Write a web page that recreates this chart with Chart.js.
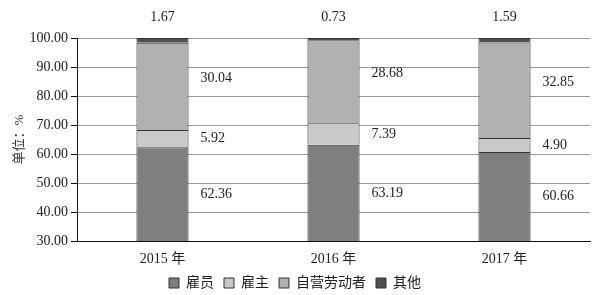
<!DOCTYPE html>
<html>
<head>
<meta charset="utf-8">
<script src="https://cdn.jsdelivr.net/npm/chart.js@4/dist/chart.umd.min.js"></script>
<style>
html,body{margin:0;padding:0;background:#fff;}
#wrap{width:606px;height:295px;position:relative;}
</style>
</head>
<body>
<div id="wrap"><canvas id="c" width="606" height="295"></canvas></div>
<script>
const categories = ["2015 年", "2016 年", "2017 年"];
const employees = [62.36, 63.19, 60.66];
const employers = [5.92, 7.39, 4.90];
const selfEmployed = [30.04, 28.68, 32.85];
const others = [1.67, 0.73, 1.59];
const seriesNames = ["雇员", "雇主", "自营劳动者", "其他"];
const seriesColors = ["#7f7f82", "#c9c9c9", "#b1b1b1", "#505050"];
const yTicks = [30, 40, 50, 60, 70, 80, 90, 100];

const FONT = '"Liberation Serif", "Noto Sans CJK SC", serif';

const labelPlugin = {
  id: 'valueLabels',
  afterDatasetsDraw(chart) {
    const ctx = chart.ctx;
    ctx.save();
    ctx.font = '14px ' + FONT;
    ctx.fillStyle = '#222';
    ctx.textBaseline = 'middle';
    chart.data.datasets.forEach((ds, di) => {
      const meta = chart.getDatasetMeta(di);
      meta.data.forEach((bar, i) => {
        const v = ds.data[i];
        const txt = v.toFixed(2);
        const props = bar.getProps(['x', 'y', 'base', 'width'], true);
        if (di === 3) {
          ctx.textAlign = 'center';
          ctx.fillText(txt, props.x, chart.chartArea.top - 21);
        } else {
          const top = props.y;
          const bottom = Math.min(props.base, chart.chartArea.bottom);
          let y = (top + bottom) / 2;
          if (di === 2) y -= 8;
          ctx.textAlign = 'left';
          ctx.fillText(txt, props.x + props.width / 2 + 12, y);
        }
      });
    });
    ctx.restore();
  }
};

new Chart(document.getElementById('c'), {
  type: 'bar',
  data: {
    labels: categories,
    datasets: [employees, employers, selfEmployed, others].map((d, k) => ({
      label: seriesNames[k],
      data: d,
      backgroundColor: seriesColors[k],
      borderColor: '#333',
      borderWidth: 1,
      categoryPercentage: 1,
      barPercentage: 0.305
    }))
  },
  options: {
    responsive: false,
    animation: false,
    devicePixelRatio: 1,
    layout: { padding: { top: 38, right: 16, left: 0, bottom: -5 } },
    plugins: {
      tooltip: { enabled: false },
      legend: {
        position: 'bottom',
        labels: {
          font: { family: FONT, size: 14 },
          color: '#222',
          boxWidth: 10,
          boxHeight: 10,
          padding: 10,
          generateLabels(chart) {
            return chart.data.datasets.map((ds, i) => ({
              text: ds.label,
              fillStyle: ds.backgroundColor,
              strokeStyle: '#333',
              lineWidth: 1,
              hidden: false,
              datasetIndex: i,
              fontColor: '#222'
            }));
          }
        }
      }
    },
    scales: {
      x: {
        stacked: true,
        grid: { display: false, drawTicks: false },
        border: { color: '#111', width: 1 },
        ticks: { font: { family: FONT, size: 14 }, color: '#222', padding: 10 },
        afterFit(s) { s.height = 25; }
      },
      y: {
        stacked: true,
        min: 30,
        max: 100,
        afterBuildTicks(s) { s.ticks = yTicks.map(v => ({ value: v })); },
        grid: { color: '#9a9a9a', lineWidth: 1, tickLength: 6, tickColor: '#111' },
        border: { color: '#111', width: 1 },
        ticks: {
          font: { family: FONT, size: 14 },
          color: '#222',
          padding: 3,
          callback: v => Number(v).toFixed(2)
        },
        title: {
          display: true,
          text: '单位：%',
          font: { family: FONT, size: 13 },
          color: '#333',
          padding: { top: 12, bottom: 0 }
        },
        afterFit(s) { s.width = 77; }
      }
    }
  },
  plugins: [labelPlugin]
});
</script>
</body>
</html>
